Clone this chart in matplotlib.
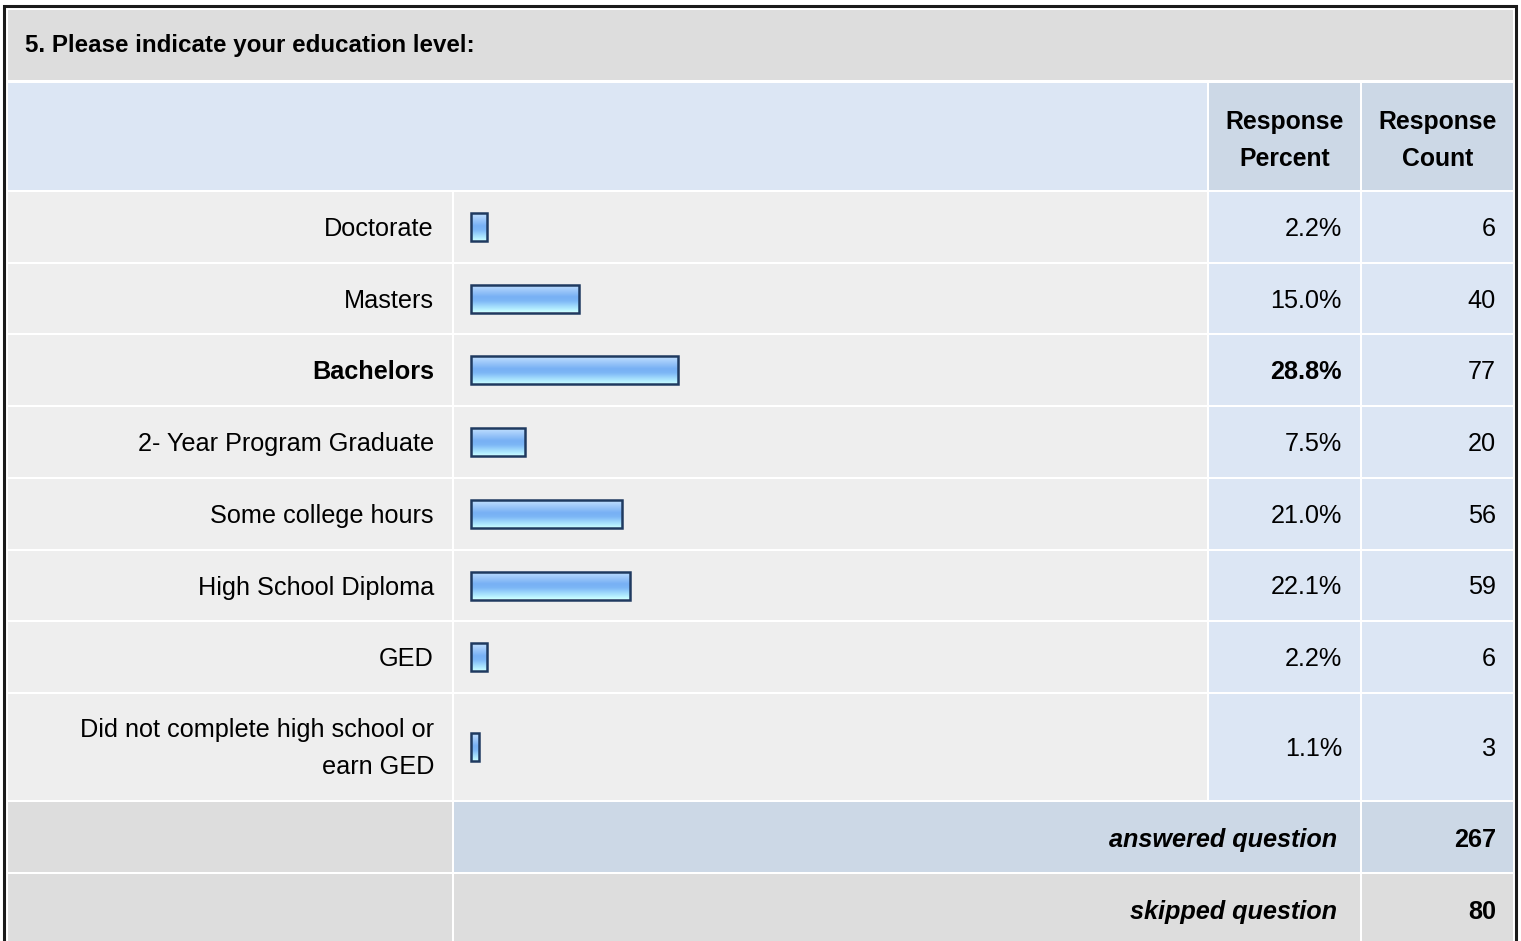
import numpy as np
import matplotlib.pyplot as plt
from matplotlib.patches import Rectangle
from matplotlib.colors import LinearSegmentedColormap

plt.rcParams['font.family'] = ['Liberation Sans', 'DejaVu Sans']

title = "5. Please indicate your education level:"
categories = ["Doctorate", "Masters", "Bachelors", "2- Year Program Graduate",
              "Some college hours", "High School Diploma", "GED",
              "Did not complete high school or\nearn GED"]
percents = [2.2, 15.0, 28.8, 7.5, 21.0, 22.1, 2.2, 1.1]
counts = [6, 40, 77, 20, 56, 59, 6, 3]
col_headers = ["Response\nPercent", "Response\nCount"]
answered = 267
skipped = 80

W, H = 1521, 941
fig = plt.figure(figsize=(W / 100, H / 100), dpi=100)
fig.patch.set_facecolor('white')

# background axes in pixel units (y down)
bg = fig.add_axes([0, 0, 1, 1])
bg.set_xlim(0, W)
bg.set_ylim(H, 0)
bg.axis('off')

GRAY = '#dddddd'
LIGHT = '#eeeeee'
BLUE = '#dce6f4'
BLUE2 = '#ccd8e6'
FS = 18.2
DY = 2  # text sits a touch low in the reference

# column edges
L0, L1 = 8, 452       # labels
B0, B1 = 454, 1207    # bars
P0, P1 = 1209, 1360   # percent
C0, C1 = 1362, 1513   # count

row_tops = [192, 264, 335, 407, 479, 551, 622, 694, 802]


def cell(x0, x1, y0, y1, color):
    bg.add_patch(Rectangle((x0, y0), x1 - x0, y1 - y0, facecolor=color,
                           edgecolor='none', zorder=1))


# title + header
cell(L0, C1, 10, 80, GRAY)
cell(L0, B1, 83, 190, BLUE)
cell(P0, P1, 83, 190, BLUE2)
cell(C0, C1, 83, 190, BLUE2)
bg.text(25, 45, title, fontsize=17.4, fontweight='bold', va='center', zorder=5)
for (x0, x1), head in zip([(P0, P1), (C0, C1)], col_headers):
    for k, line in enumerate(head.split('\n')):
        bg.text((x0 + x1) / 2, 120 + DY + 37 * k, line, fontsize=17.8,
                fontweight='bold', ha='center', va='center', zorder=5)

# data rows
centers = []
top_i = np.argmax(percents)
for i, (cat, p, c) in enumerate(zip(categories, percents, counts)):
    y0, y1 = row_tops[i], row_tops[i + 1] - 2
    yc = (y0 + y1) / 2
    centers.append(yc)
    cell(L0, L1, y0, y1, LIGHT)
    cell(B0, B1, y0, y1, LIGHT)
    cell(P0, P1, y0, y1, BLUE)
    cell(C0, C1, y0, y1, BLUE)
    w = 'bold' if i == top_i else 'normal'
    lines = cat.split('\n')
    off = (len(lines) - 1) * 37 / 2
    for k, line in enumerate(lines):
        bg.text(434, yc + DY - off + 37 * k, line, fontsize=FS, fontweight=w,
                ha='right', va='center', zorder=5)
    bg.text(1342, yc + DY, f"{p:.1f}%", fontsize=FS, fontweight=w,
            ha='right', va='center', zorder=5)
    bg.text(1496, yc + DY, str(c), fontsize=FS, ha='right', va='center', zorder=5)

# summary rows
cell(L0, L1, 802, 872, GRAY)
cell(B0, P1, 802, 872, BLUE2)
cell(C0, C1, 802, 872, BLUE2)
cell(L0, L1, 874, H, GRAY)
cell(B0, P1, 874, H, GRAY)
cell(C0, C1, 874, H, GRAY)
for yc, lab, val in [(838, "answered question", answered), (910, "skipped question", skipped)]:
    bg.text(1337, yc + DY, lab, fontsize=FS, fontweight='bold', style='italic',
            ha='right', va='center', zorder=5)
    bg.text(1496, yc + DY, str(val), fontsize=FS, fontweight='bold',
            ha='right', va='center', zorder=5)

# outer frame
bg.plot([4, 4, 1516, 1516], [H, 6, 6, H], color='#1a1a1a', lw=2.2,
        solid_joinstyle='miter', zorder=6)

# bar axes: x in percent, y shared pixel rows
x_start = 471
scale = 7.2
bx = fig.add_axes([B0 / W, 0, (B1 - B0) / W, 1])
bx.patch.set_alpha(0)
bx.axis('off')

grad = LinearSegmentedColormap.from_list(
    'bar', [(0, '#c2e0ff'), (0.45, '#78b0f4'), (0.6, '#7cb6f6'),
            (0.88, '#b0eaff'), (1, '#ccffff')])
bar_h = 28
bars = bx.barh(centers, percents, height=bar_h, color='none',
               edgecolor='#1f3a60', linewidth=1.8, zorder=3)
g = np.linspace(0, 1, 64).reshape(-1, 1)
for rect in bars:
    x, y = rect.get_x(), rect.get_y()
    w, h = rect.get_width(), rect.get_height()
    im = bx.imshow(g, cmap=grad, aspect='auto', origin='upper',
                   extent=(x, x + w, y + h, y), zorder=2)
    im.set_clip_path(rect)
bx.set_ylim(H, 0)
bx.set_xlim(-(x_start - B0) / scale, (B1 - x_start) / scale)

fig.savefig('out.png', dpi=100, facecolor='white')
